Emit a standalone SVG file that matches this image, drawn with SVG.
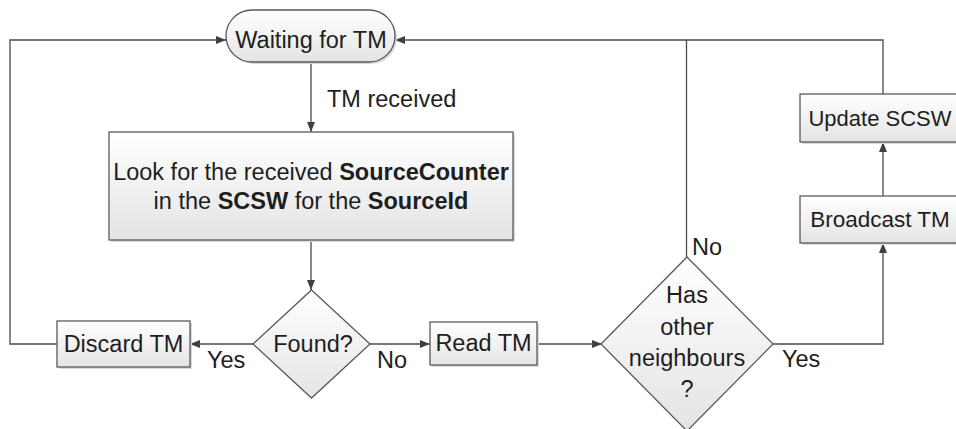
<svg xmlns="http://www.w3.org/2000/svg" width="956" height="429" viewBox="0 0 956 429">
  <defs>
    <linearGradient id="g" x1="0" y1="0" x2="0" y2="1">
      <stop offset="0" stop-color="#ffffff"/>
      <stop offset="1" stop-color="#e4e4e4"/>
    </linearGradient>
    <marker id="ah" viewBox="0 0 10 10" refX="10" refY="5" markerWidth="10" markerHeight="10" markerUnits="userSpaceOnUse" orient="auto">
      <path d="M0,1 L10,5 L0,9 Z" fill="#404040"/>
    </marker>
  </defs>
  <style>
    .shape { fill: url(#g); stroke: #5a5a5a; stroke-width: 1.3; }
    .shadow { fill: #dadada; }
    .conn { fill: none; stroke: #4a4a4a; stroke-width: 1.3; }
    .arr { marker-end: url(#ah); }
    text { font-family: "Liberation Sans", Arial, sans-serif; font-size: 23.5px; fill: #1e1e1e; text-anchor: middle; }
    .lbl { text-anchor: start; }
    .b { font-weight: bold; }
  </style>

  <rect width="956" height="429" fill="#ffffff"/>

  <g id="connectors">
    <path class="conn arr" d="M57,344 H10 V40 H226"/>
    <path class="conn arr" d="M883,94 V40 H395"/>
    <path class="conn" d="M686.5,257 V40"/>
    <path class="conn arr" d="M311,62 V132"/>
    <path class="conn arr" d="M311,240 V290"/>
    <path class="conn arr" d="M253,344 H190"/>
    <path class="conn arr" d="M370,344 H430"/>
    <path class="conn arr" d="M537,344 H602"/>
    <path class="conn arr" d="M773,344 H883 V243"/>
    <path class="conn arr" d="M883,196 V142"/>
    <text class="lbl" x="327" y="107">TM received</text>
    <text class="lbl" x="207" y="368">Yes</text>
    <text class="lbl" x="377" y="368">No</text>
    <text class="lbl" x="692" y="255">No</text>
    <text class="lbl" x="782" y="367">Yes</text>
  </g>

  <g id="waiting">
    <rect class="shadow" x="228" y="12" width="169" height="52" rx="26"/>
    <rect class="shape" x="226" y="10" width="169" height="52" rx="26"/>
    <text x="311" y="48">Waiting for TM</text>
  </g>

  <g id="lookup">
    <rect class="shadow" x="111" y="134" width="404" height="108"/>
    <rect class="shape" x="109" y="132" width="404" height="108"/>
    <text x="311" y="180">Look for the received <tspan class="b">SourceCounter</tspan></text>
    <text x="311" y="209">in the <tspan class="b">SCSW</tspan> for the <tspan class="b">SourceId</tspan></text>
  </g>

  <g id="found">
    <polygon class="shape" points="311.5,290 370,344 311.5,398 253,344"/>
    <text x="313" y="352">Found?</text>
  </g>

  <g id="discard">
    <rect class="shadow" x="59" y="323" width="133" height="46"/>
    <rect class="shape" x="57" y="321" width="133" height="46"/>
    <text x="123.5" y="352">Discard TM</text>
  </g>

  <g id="read">
    <rect class="shadow" x="432" y="324" width="107" height="43"/>
    <rect class="shape" x="430" y="322" width="107" height="43"/>
    <text x="483.5" y="351">Read TM</text>
  </g>

  <g id="neighbours">
    <polygon class="shape" points="687,257 773,344 687,431 601,344"/>
    <text x="687" y="303">Has</text>
    <text x="687" y="335">other</text>
    <text x="687" y="366">neighbours</text>
    <text x="687" y="397">?</text>
  </g>

  <g id="broadcast">
    <rect class="shadow" x="802" y="198" width="166" height="47"/>
    <rect class="shape" x="800" y="196" width="166" height="47"/>
    <text x="880" y="227" style="font-size:22.5px">Broadcast TM</text>
  </g>

  <g id="update">
    <rect class="shadow" x="802" y="96" width="166" height="48"/>
    <rect class="shape" x="800" y="94" width="166" height="48"/>
    <text x="880" y="126" style="font-size:22px">Update SCSW</text>
  </g>
</svg>
